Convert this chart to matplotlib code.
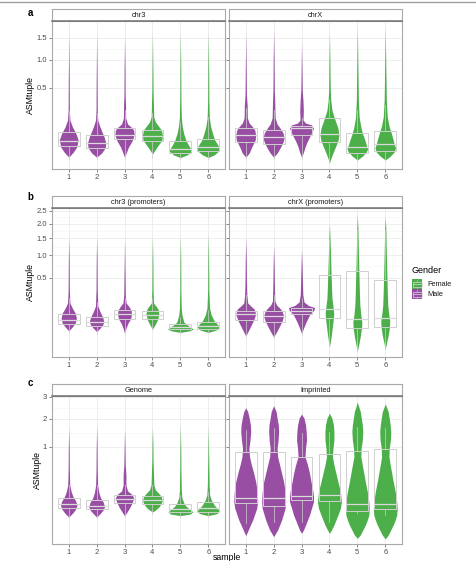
import numpy as np
import matplotlib
matplotlib.use("Agg")
import matplotlib.pyplot as plt
from matplotlib.patches import Rectangle
from matplotlib.lines import Line2D

plt.rcParams['font.family'] = ['Liberation Sans', 'DejaVu Sans']

samples = [1, 2, 3, 4, 5, 6]
gender = ['Male', 'Male', 'Male', 'Female', 'Female', 'Female']
colours = {'Female': '#4DAF4A', 'Male': '#984EA3'}

# violin outlines: ASMtuple values (bottom -> top) and density half-widths
chr3_y = [
    [-0.0001, 0.0019, 0.0091, 0.0282, 0.0578, 0.0916, 0.141, 0.229, 0.623, 1.630],
    [-0.0001, 0.0011, 0.0072, 0.0187, 0.0396, 0.0682, 0.0980, 0.141, 0.229, 0.623, 1.630],
    [-0.0001, 0.0019, 0.0091, 0.0249, 0.0483, 0.0737, 0.0916, 0.1113, 0.157, 0.282, 0.402, 0.797, 1.533],
    [0.0005, 0.0041, 0.0135, 0.0282, 0.0483, 0.0737, 0.0980, 0.1256, 0.165, 0.282, 0.4706, 0.797, 1.630],
    [-0.0002, 0.0002, 0.0029, 0.0072, 0.0160, 0.0282, 0.0529, 0.0916, 0.157, 0.339, 0.797, 1.657],
    [-0.0002, 0.0002, 0.0029, 0.0072, 0.0160, 0.0282, 0.0529, 0.0916, 0.157, 0.339, 0.797, 1.657],
]
chr3_w = [
    [0, 4.7, 8, 9.5, 7, 3.7, 1.2, 0.6, 0.45, 0],
    [0, 5, 8.5, 9.2, 7.5, 5, 3, 1.1, 0.6, 0.45, 0],
    [0, 2, 4, 7.5, 9.7, 9.2, 6.5, 3, 1.1, 1.0, 0.6, 0.45, 0],
    [0, 2.5, 6, 9.5, 10, 9, 6, 3, 1.3, 1.0, 0.6, 0.45, 0],
    [0, 7, 11.3, 10, 7.5, 5.5, 3.5, 2, 1.0, 0.6, 0.45, 0],
    [0, 6, 10.5, 11.3, 9, 6.5, 4.5, 2.5, 1.1, 0.6, 0.45, 0],
]
chr3_q1 = [0.0112, 0.0072, 0.0307, 0.0238, 0.0009, 0.0032]
chr3_med = [0.0249, 0.0187, 0.0483, 0.0438, 0.0056, 0.0097]
chr3_q3 = [0.0629, 0.0483, 0.0854, 0.0720, 0.0238, 0.0329]
chr3_lo = [-0.0008, -0.0008, -0.0008, -0.0004, -0.0008, -0.0008]
chr3_hi = [0.219, 0.200, 0.229, 0.200, 0.1256, 0.165]

chrX_y = [
    [-0.0001, 0.0011, 0.0091, 0.0282, 0.0483, 0.0737, 0.0916, 0.118, 0.157, 0.282, 0.402, 0.797, 1.622],
    [-0.0001, 0.0011, 0.0072, 0.0217, 0.0356, 0.0578, 0.0795, 0.1113, 0.157, 0.282, 0.4706, 0.994, 1.710],
    [-0.0001, 0.0019, 0.0091, 0.0217, 0.0396, 0.0629, 0.0854, 0.105, 0.118, 0.141, 0.229, 0.339, 0.4706, 0.797, 1.376],
    [-0.0050, -0.0004, 0.0011, 0.0091, 0.0249, 0.0483, 0.0854, 0.133, 0.182, 0.229, 0.339, 0.4706, 0.994, 1.622],
    [-0.0015, 0.0000, 0.0019, 0.0056, 0.0135, 0.0282, 0.0578, 0.0916, 0.165, 0.339, 0.797, 1.793],
    [-0.0015, 0.0000, 0.0019, 0.0072, 0.0160, 0.0282, 0.0578, 0.0916, 0.165, 0.339, 0.797, 1.793],
]
chrX_w = [
    [0, 3.5, 6, 9.5, 10, 9, 7, 3.5, 1.6, 1.4, 0.7, 0.45, 0],
    [0, 3.5, 6.5, 9.5, 10.5, 9.5, 7, 3.5, 1.5, 1.2, 0.7, 0.45, 0],
    [0, 2, 3.5, 5.5, 8, 10.5, 12, 10, 4, 1.5, 1.8, 1.4, 0.7, 0.45, 0],
    [0, 1.5, 3.5, 6, 8.5, 9.5, 8.5, 6, 4, 2.5, 1.3, 0.8, 0.45, 0],
    [0, 5, 9, 10.3, 9, 7.5, 5, 3.5, 1.8, 1.0, 0.6, 0],
    [0, 5, 9, 10.3, 9, 8, 6, 4, 2.0, 1.1, 0.6, 0],
]
chrX_q1 = [0.0217, 0.0160, 0.0483, 0.0226, 0.0009, 0.0032]
chrX_med = [0.0483, 0.0408, 0.0872, 0.0529, 0.0097, 0.0152]
chrX_q3 = [0.0854, 0.0737, 0.0980, 0.1542, 0.0563, 0.0698]
chrX_lo = [-0.0015, -0.0015, -0.0008, -0.0050, -0.0025, -0.0025]
chrX_hi = [0.2495, 0.229, 0.157, 0.339, 0.229, 0.282]

chr3p_y = [
    [0.0001, 0.0036, 0.0127, 0.0304, 0.0594, 0.0957, 0.1405, 0.2973, 0.8806, 1.515],
    [0.0000, 0.0022, 0.0075, 0.0168, 0.0366, 0.0660, 0.1126, 0.2973, 0.8806, 1.537],
    [-0.0003, 0.0022, 0.0127, 0.0273, 0.0514, 0.0801, 0.1065, 0.1405, 0.2301, 0.6518, 1.473],
    [0.0012, 0.0075, 0.0231, 0.0532, 0.0877, 0.1126, 0.1405, 0.2973, 0.8806, 1.537],
    [-0.0001, 0.0001, 0.0012, 0.0036, 0.0075, 0.0158, 0.0473, 0.0957, 0.2973, 0.8806, 1.537],
    [-0.0001, 0.0004, 0.0036, 0.0099, 0.0193, 0.0473, 0.0957, 0.2973, 0.8806, 1.670],
]
chr3p_w = [
    [0, 3.5, 6.5, 7.7, 6.5, 3.5, 1.2, 0.6, 0.4, 0],
    [0, 3.5, 6, 7.3, 6, 3.5, 1.2, 0.6, 0.4, 0],
    [0, 1.5, 3.5, 6, 7, 6.5, 4.5, 1.6, 0.8, 0.45, 0],
    [0, 2.5, 5, 6.5, 5.5, 3.5, 1.1, 0.6, 0.4, 0],
    [0, 9, 13, 10, 7, 3.5, 1.6, 0.9, 0.55, 0.4, 0],
    [0, 8, 11, 9, 6, 3, 1.3, 0.6, 0.4, 0],
]
chr3p_q1 = [0.0107, 0.0060, 0.0273, 0.0260, 0.0012, 0.0012]
chr3p_med = [0.0231, 0.0168, 0.0514, 0.0473, 0.0041, 0.0060]
chr3p_q3 = [0.0514, 0.0366, 0.0779, 0.0729, 0.0092, 0.0168]
chr3p_lo = [-0.0003, -0.0010, -0.0010, 0.0004, -0.0003, -0.0003]
chr3p_hi = [0.1939, 0.1505, 0.1939, 0.1939, 0.0366, 0.0801]

chrXp_y = [
    [-0.0033, 0.0004, 0.0075, 0.0231, 0.0532, 0.0877, 0.1126, 0.1405, 0.2301, 0.4573, 0.8806, 1.505],
    [-0.0050, 0.0001, 0.0054, 0.0193, 0.0418, 0.0729, 0.0957, 0.1215, 0.1608, 0.373, 0.762, 1.259],
    [-0.0006, 0.0022, 0.0158, 0.0473, 0.0801, 0.0998, 0.1170, 0.1505, 0.2301, 0.373, 0.762, 1.172],
    [-0.0392, -0.0121, -0.0003, 0.0054, 0.0318, 0.0594, 0.1126, 0.1939, 0.373, 0.6518, 1.008, 1.441, 1.978],
    [-0.0647, -0.0264, -0.0033, 0.0022, 0.0158, 0.0473, 0.1215, 0.2973, 0.6518, 1.144, 1.773, 2.363],
    [-0.0520, -0.0186, -0.0020, 0.0036, 0.0193, 0.0532, 0.1215, 0.2973, 0.6518, 1.144, 1.773, 2.268],
]
chrXp_w = [
    [0, 3, 5.5, 8, 10, 8.5, 5, 2, 1.1, 0.7, 0.5, 0],
    [0, 3.5, 6, 8.5, 10, 8.5, 6, 3, 1.2, 0.8, 0.5, 0],
    [0, 2, 4.5, 8, 12.5, 13, 7, 2.5, 1.3, 1.0, 0.5, 0],
    [0, 1.2, 2.2, 3, 4, 4.3, 3.5, 2.5, 2, 1.5, 1.1, 0.6, 0],
    [0, 1.5, 3, 4.2, 4.5, 3.5, 2.5, 2, 1.5, 1.0, 0.6, 0],
    [0, 1.5, 3, 4.2, 4.5, 3.5, 2.5, 2, 1.5, 1.0, 0.6, 0],
]
chrXp_q1 = [0.0243, 0.0168, 0.0514, 0.0332, 0.0026, 0.0041]
chrXp_med = [0.0514, 0.0418, 0.0750, 0.0877, 0.0260, 0.0332]
chrXp_q3 = [0.0729, 0.0729, 0.0932, 0.5503, 0.6371, 0.452]
chrXp_lo = [-0.0050, -0.0070, -0.0020, -0.0392, -0.0647, -0.0520]
chrXp_hi = [0.2301, 0.2301, 0.1939, 1.441, 1.773, 1.773]

genome_y = [
    [-0.0004, 0.0015, 0.0095, 0.0243, 0.0458, 0.0741, 0.1190, 0.1997, 0.4425, 0.9146, 1.641],
    [-0.0004, 0.0015, 0.0069, 0.0172, 0.0398, 0.0664, 0.1092, 0.1997, 0.4425, 0.9146, 1.743],
    [0.0000, 0.0029, 0.0126, 0.0342, 0.0641, 0.0952, 0.1293, 0.1997, 0.3510, 0.5446, 0.9146, 1.593],
    [0.0029, 0.0069, 0.0160, 0.0342, 0.0522, 0.0822, 0.1092, 0.1399, 0.1997, 0.3510, 0.6573, 1.059, 1.656],
    [0.0000, 0.0006, 0.0034, 0.0095, 0.0199, 0.0342, 0.0664, 0.1293, 0.4425, 0.9146, 1.782],
    [0.0000, 0.0010, 0.0053, 0.0126, 0.0243, 0.0522, 0.0908, 0.1997, 0.6573, 1.743],
]
genome_w = [
    [0, 4, 7, 8.3, 7, 4.5, 2.5, 1.0, 0.6, 0.45, 0],
    [0, 4, 6.5, 8, 6.5, 4, 2.3, 1.0, 0.6, 0.45, 0],
    [0, 2.5, 5, 7.5, 9.3, 7.5, 3, 1.4, 1.4, 0.7, 0.45, 0],
    [0, 3, 6.5, 9, 10, 8.5, 6, 3, 1.4, 1.1, 0.6, 0.45, 0],
    [0, 10, 12.5, 9, 5.5, 3.5, 1.6, 1.0, 0.6, 0.45, 0],
    [0, 9, 11.3, 8.5, 6, 3, 1.4, 0.9, 0.5, 0],
]
genome_q1 = [0.0136, 0.0095, 0.0326, 0.0275, 0.0034, 0.0034]
genome_med = [0.0275, 0.0187, 0.0570, 0.0502, 0.0095, 0.0136]
genome_q3 = [0.0641, 0.0542, 0.0908, 0.0848, 0.0305, 0.0415]
genome_lo = [-0.0011, -0.0011, -0.0004, 0.0006, -0.0004, -0.0004]
genome_hi = [0.1997, 0.1997, 0.1997, 0.1997, 0.0908, 0.1190]

imprinted_y = [
    [-0.0848, -0.0433, -0.0183, -0.0039, 0.0001, 0.0116, 0.0415, 0.1220, 0.2449, 0.3809,
     0.5446, 0.7376, 0.9625, 1.214, 1.495, 1.743, 2.010, 2.292, 2.471],
    [-0.0934, -0.0656, -0.0433, -0.0183, -0.0039, 0.0001, 0.0116, 0.0415, 0.1220, 0.2449,
     0.3809, 0.5446, 0.7376, 0.9625, 1.214, 1.495, 1.743, 2.010, 2.292, 2.564],
    [-0.0656, -0.0433, -0.0183, -0.0039, 0.0001, 0.0116, 0.0415, 0.0765, 0.1220, 0.2449,
     0.3809, 0.5446, 0.7376, 0.9625, 1.214, 1.495, 1.743, 2.010, 2.191],
    [-0.0656, -0.0433, -0.0183, -0.0039, 0.0001, 0.0116, 0.0415, 0.1220, 0.2449, 0.3809,
     0.5446, 0.7376, 0.9625, 1.214, 1.495, 1.743, 2.010, 2.222],
    [-0.1082, -0.0789, -0.0433, -0.0183, -0.0039, 0.0001, 0.0116, 0.0415, 0.1220, 0.2449,
     0.3809, 0.5446, 0.7376, 0.9625, 1.214, 1.495, 1.743, 2.010, 2.292, 2.725],
    [-0.1150, -0.0789, -0.0433, -0.0183, -0.0039, 0.0001, 0.0116, 0.0415, 0.1220, 0.2449,
     0.3809, 0.5446, 0.7376, 0.9625, 1.214, 1.495, 1.743, 2.010, 2.292, 2.644],
]
imprinted_w = [
    [0, 2.5, 4.7, 7, 8.7, 11, 12, 11.5, 10, 8, 5.7, 3.8, 3.2, 4.3, 5, 4.7, 3.5, 2, 0],
    [0, 2, 4, 6, 8, 9.5, 11.5, 12, 11.5, 10, 8, 6, 4, 3.5, 4.5, 5, 4.7, 3.5, 2.5, 0],
    [0, 2, 4, 6, 8, 10, 12, 12, 11.5, 9.5, 8, 6, 3.5, 4, 5, 4.7, 4, 2.5, 0],
    [0, 2, 4.5, 6.5, 8.5, 11, 12, 11, 8.5, 6.5, 4.5, 3, 3.5, 4.5, 4.5, 4, 2.5, 0],
    [0, 3, 5.5, 8, 10, 11.5, 12, 11.5, 10, 8, 6.5, 5, 3.5, 3.8, 5, 5.5, 5, 4, 3, 0],
    [0, 3, 5.5, 8, 10, 11.5, 12, 11.5, 10, 8, 6.5, 5, 3.7, 4, 5.2, 5.5, 5, 4, 3, 0],
]
imprinted_q1 = [0.0326, 0.0199, 0.0522, 0.0458, 0.0053, 0.0087]
imprinted_med = [0.0641, 0.0641, 0.0822, 0.0908, 0.0275, 0.0275]
imprinted_q3 = [0.8517, 0.8517, 0.7300, 0.7988, 0.8870, 0.9426]
imprinted_lo = [-0.0122, -0.0076, -0.0076, -0.0076, 0.0012, 0.0001]
imprinted_hi = [1.556, 1.618, 1.439, 1.495, 1.678, 1.618]

row_ticks = [[0.5, 1.0, 1.5], [0.5, 1.0, 1.5, 2.0, 2.5], [1, 2, 3]]
row_ticklabels = [['0.5', '1.0', '1.5'], ['0.5', '1.0', '1.5', '2.0', '2.5'], ['1', '2', '3']]
row_limits = [(-0.0176, 1.971), (-0.108, 2.624), (-0.170, 3.035)]
row_letters = ['a', 'b', 'c']

panels = [
    ('chr3', chr3_y, chr3_w, chr3_q1, chr3_med, chr3_q3, chr3_lo, chr3_hi),
    ('chrX', chrX_y, chrX_w, chrX_q1, chrX_med, chrX_q3, chrX_lo, chrX_hi),
    ('chr3 (promoters)', chr3p_y, chr3p_w, chr3p_q1, chr3p_med, chr3p_q3, chr3p_lo, chr3p_hi),
    ('chrX (promoters)', chrXp_y, chrXp_w, chrXp_q1, chrXp_med, chrXp_q3, chrXp_lo, chrXp_hi),
    ('Genome', genome_y, genome_w, genome_q1, genome_med, genome_q3, genome_lo, genome_hi),
    ('Imprinted', imprinted_y, imprinted_w, imprinted_q1, imprinted_med, imprinted_q3,
     imprinted_lo, imprinted_hi),
]


def fwd(v):
    v = np.asarray(v, dtype=float)
    return np.sign(v) * np.sqrt(np.abs(v))


def inv(s):
    s = np.asarray(s, dtype=float)
    return np.sign(s) * s ** 2


W, H = 476, 561
fig = plt.figure(figsize=(W / 100, H / 100), dpi=100)


def box(x0, y0, x1, y1):
    return [x0 / W, 1 - y1 / H, (x1 - x0) / W, (y1 - y0) / H]


row_top = [20.7, 208, 396]
row_bot = [169, 356.7, 544]
strip_top = [9, 196, 384]
col_x = [(52, 225), (229, 402)]
letter_y = [13, 196.5, 383]

VW = 1 / 28.0   # density units -> x units
BW = 0.78
box_col = '#CFCFCF'
grid_col = '#EBEBEB'

for k, (name, ys, ws, q1, med, q3, lo, hi) in enumerate(panels):
    r, c = divmod(k, 2)
    x0, x1 = col_x[c]
    ax = fig.add_axes(box(x0, row_top[r], x1, row_bot[r]))
    ax.set_yscale('function', functions=(fwd, inv))
    ax.set_xlim(0.4, 6.6)
    ax.set_ylim(*row_limits[r])

    # grid
    ticks = row_ticks[r]
    for t in ticks:
        ax.axhline(t, color=grid_col, lw=0.6, zorder=0)
    st = fwd(ticks)
    for a, b in zip(st[:-1], st[1:]):
        ax.axhline(inv((a + b) / 2), color='#F4F4F4', lw=0.4, zorder=0)
    for x in samples:
        ax.axvline(x, color=grid_col, lw=0.6, zorder=0)

    for i, x in enumerate(samples):
        col = colours[gender[i]]
        yv = np.array(ys[i])
        hw = np.array(ws[i]) * VW
        ax.fill_betweenx(yv, x - hw, x + hw, color=col, lw=0, zorder=2)
        ax.add_patch(Rectangle((x - BW / 2, q1[i]), BW, q3[i] - q1[i], fill=False,
                               ec=box_col, lw=0.7, zorder=3))
        ax.plot([x - BW / 2, x + BW / 2], [med[i], med[i]], color='#DADADA', lw=0.9,
                zorder=4, solid_capstyle='butt')
        ax.plot([x, x], [lo[i], q1[i]], color=box_col, lw=0.5, zorder=3)
        ax.plot([x, x], [q3[i], hi[i]], color=box_col, lw=0.5, zorder=3)

    ax.set_xticks(samples)
    ax.set_xticklabels([str(s) for s in samples])
    ax.set_yticks(ticks)
    ax.yaxis.set_minor_locator(matplotlib.ticker.NullLocator())
    if c == 0:
        ax.set_yticklabels(row_ticklabels[r])
        ax.set_ylabel('ASMtuple', fontsize=6.3, labelpad=1)
    else:
        ax.set_yticklabels([])
        ax.tick_params(axis='y', length=0)
    ax.tick_params(labelsize=5.5, labelcolor='#4D4D4D', color='#555555',
                   length=2, width=0.5, pad=1.5)
    for sp in ax.spines.values():
        sp.set_color('#A8A8A8')
        sp.set_linewidth(0.8)

    # facet strip
    sax = fig.add_axes(box(x0, strip_top[r], x1, row_top[r]))
    sax.set_xticks([])
    sax.set_yticks([])
    for sp in sax.spines.values():
        sp.set_color('#A8A8A8')
        sp.set_linewidth(0.8)
    sax.spines['bottom'].set_color('#707070')
    sax.spines['bottom'].set_linewidth(1.1)
    sax.text(0.5, 0.45, name, ha='center', va='center', fontsize=5.3,
             color='#1A1A1A', transform=sax.transAxes)

for r in range(3):
    fig.text(30 / W, 1 - letter_y[r] / H, row_letters[r], ha='center', va='center',
             fontsize=7, fontweight='bold')

fig.text(227 / W, 1 - 552.5 / H, 'sample', ha='center', va='top', fontsize=6.3)

# legend
lax = fig.add_axes(box(405, 262, 476, 305))
lax.set_xlim(405, 476)
lax.set_ylim(305, 262)
lax.axis('off')
lax.text(411.5, 271, 'Gender', ha='left', va='center', fontsize=6.5)
for j, (lab, ky) in enumerate([('Female', 279.5), ('Male', 289.5)]):
    lax.add_patch(Rectangle((412.3, ky), 10, 9.6, color=colours[lab], lw=0))
    lax.add_patch(Rectangle((412.8, ky + 2.4), 9, 4.8, fill=False, ec='#D8D8D8', lw=0.5))
    lax.plot([412.8, 421.8], [ky + 4.8] * 2, color='#D8D8D8', lw=0.5)
    lax.plot([417.3, 417.3], [ky + 0.6, ky + 2.4], color='#D8D8D8', lw=0.4)
    lax.plot([417.3, 417.3], [ky + 7.2, ky + 9.0], color='#D8D8D8', lw=0.4)
    lax.text(427.3, ky + 4.8, lab, ha='left', va='center', fontsize=5.3, color='#1A1A1A')

fig.add_artist(Line2D([0, 1], [1 - 2 / H, 1 - 2 / H], color='#A0A0A0', lw=1.0))

fig.savefig('out.png', dpi=100)
